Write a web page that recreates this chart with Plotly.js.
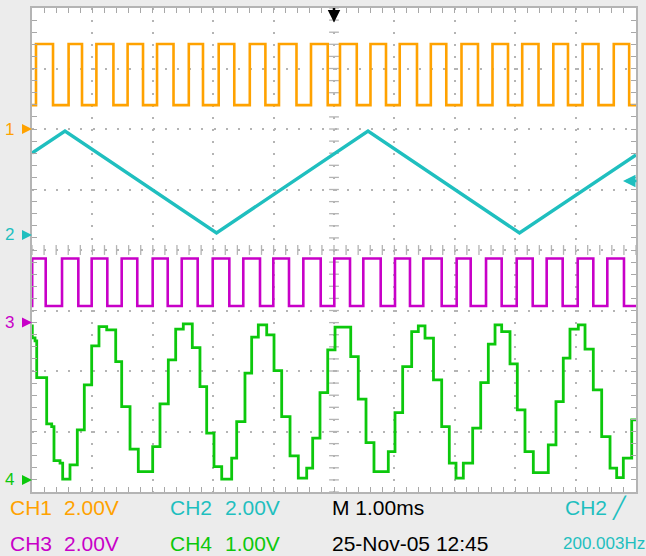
<!DOCTYPE html>
<html>
<head>
<meta charset="utf-8">
<script src="https://cdn.plot.ly/plotly-3.0.1.min.js"></script>
<style>
  html, body { margin: 0; padding: 0; background: #ececec; }
  #chart { width: 646px; height: 556px; }
</style>
</head>
<body>
<div id="chart"></div>
<script>
// ---------------- Data (time in ms, amplitude in volts) ----------------
// CH1: square wave, edge times (starts low)
const ch1Edges = [0.066, 0.348, 0.606, 0.828, 1.066, 1.348, 1.583, 1.838, 2.070, 2.343,
  2.596, 2.831, 3.091, 3.349, 3.606, 3.864, 4.089, 4.379, 4.619, 4.896,
  5.099, 5.377, 5.604, 5.861, 6.088, 6.374, 6.603, 6.859, 7.111, 7.384,
  7.624, 7.881, 8.116, 8.386, 8.631, 8.874, 9.116, 9.379, 9.632, 9.887];
const ch1Levels = [0.79, 2.81];   // low, high (V)

// CH2: stepped triangle, vertices
const ch2Time = [0, 0.546, 3.055, 5.563, 8.071, 10.0];
const ch2Volts = [2.707, 3.434, 0.062, 3.434, 0.062, 2.640];

// CH3: square wave, edge times (starts low)
const ch3Edges = [0.003, 0.227, 0.497, 0.767, 0.988, 1.247, 1.485, 1.743, 1.998, 2.247,
  2.479, 2.743, 2.992, 3.267, 3.498, 3.775, 3.995, 4.255, 4.492, 4.780,
  5.005, 5.265, 5.485, 5.773, 6.010, 6.258, 6.478, 6.783, 7.031, 7.263,
  7.517, 7.776, 8.025, 8.290, 8.521, 8.786, 9.035, 9.293, 9.525, 9.801];
const ch3Levels = [0.55, 2.12];

// CH4: stepped sine (sample-and-hold levels)
const ch4Time = [0, 0.005, 0.050, 0.078, 0.243, 0.326, 0.364, 0.464, 0.508, 0.629,
  0.750, 0.866, 0.988, 1.109, 1.237, 1.386, 1.485, 1.623, 1.760, 1.998,
  2.119, 2.257, 2.379, 2.505, 2.654, 2.781, 2.892, 3.013, 3.141, 3.306,
  3.389, 3.526, 3.637, 3.747, 3.886, 4.007, 4.134, 4.272, 4.409, 4.548,
  4.647, 4.768, 4.896, 5.017, 5.277, 5.402, 5.530, 5.662, 5.899, 6.010,
  6.137, 6.286, 6.396, 6.507, 6.647, 6.783, 6.909, 7.020, 7.141, 7.296,
  7.429, 7.555, 7.666, 7.776, 7.914, 8.035, 8.162, 8.300, 8.548, 8.675,
  8.796, 8.907, 9.045, 9.156, 9.293, 9.432, 9.570, 9.680, 9.790, 9.929, 10.0];
const ch4Volts = [2.546, 2.347, 2.298, 1.691, 0.926, 0.881, 0.319, 0.276, 0.012, 0.248,
  0.827, 1.571, 2.215, 2.534, 2.480, 1.956, 1.212, 0.508, 0.138, 0.551,
  1.257, 1.984, 2.491, 2.579, 2.187, 1.542, 0.772, 0.220, 0.012, 0.359,
  0.964, 1.764, 2.359, 2.562, 2.397, 1.807, 1.047, 0.397, 0.028, 0.194,
  0.690, 1.443, 2.149, 2.524, 2.038, 1.334, 0.617, 0.138, 0.468, 1.113,
  1.873, 2.452, 2.546, 2.342, 1.653, 0.881, 0.276, 0.028, 0.276, 0.855,
  1.609, 2.243, 2.562, 2.452, 1.918, 1.157, 0.468, 0.121, 0.579, 1.295,
  2.012, 2.491, 2.562, 2.161, 1.488, 0.716, 0.194, 0.038, 0.359, 0.992, 0.992];

// Scope settings
const channelNames = ['CH1', 'CH2', 'CH3', 'CH4'];
const voltsPerDiv = [2.0, 2.0, 2.0, 1.0];
const voltsLabels = ['2.00V', '2.00V', '2.00V', '1.00V'];
const groundDiv = [6.0, 4.25, 2.8, 0.2];
const timebaseLabel = 'M 1.00ms';
const dateLabel = '25-Nov-05 12:45';
const triggerLabel = 'CH2 \u2571';
const freqLabel = '200.003Hz';
const triggerLevelV = 1.78;

// ---------------- Styling ----------------
const colors = ['#ffa200', '#1fbfbf', '#c800c8', '#0cc80c'];
const gridCol = '#b4b4b4';
const FONT = 'Liberation Sans, Arial, sans-serif';

function toDiv(ch, v) { return groundDiv[ch] + v / voltsPerDiv[ch]; }

function squareTrace(ch, edges, levels) {
  const x = [0], y = [toDiv(ch, levels[0])];
  let state = 0;
  edges.forEach(e => { state = 1 - state; x.push(e); y.push(toDiv(ch, levels[state])); });
  x.push(10); y.push(toDiv(ch, levels[state]));
  return { x, y, type: 'scatter', mode: 'lines', line: { color: colors[ch], width: 2.6, shape: 'hv' }, hoverinfo: 'skip' };
}

// crosshair tick marks on center lines
const minorY = [], minorX = [];
for (let i = 0; i <= 40; i++) minorY.push(i * 0.2);
for (let i = 0; i <= 50; i++) minorX.push(i * 0.2);

const traces = [
  { x: minorY.map(() => 5), y: minorY, type: 'scatter', mode: 'markers',
    marker: { symbol: 'line-ew', size: 7, line: { width: 1.3, color: gridCol } }, hoverinfo: 'skip' },
  { x: minorX, y: minorX.map(() => 4), type: 'scatter', mode: 'markers',
    marker: { symbol: 'line-ns', size: 7, line: { width: 1.3, color: gridCol } }, hoverinfo: 'skip' },
  squareTrace(0, ch1Edges, ch1Levels),
  { x: ch2Time, y: ch2Volts.map(v => toDiv(1, v)), type: 'scatter', mode: 'lines',
    line: { color: colors[1], width: 3.4 }, hoverinfo: 'skip' },
  squareTrace(2, ch3Edges, ch3Levels),
  { x: ch4Time, y: ch4Volts.map(v => toDiv(3, v)), type: 'scatter', mode: 'lines',
    line: { color: colors[3], width: 2.8, shape: 'hv' }, hoverinfo: 'skip' }
];

const annotations = [];
// ground markers
for (let c = 0; c < 4; c++) {
  annotations.push({ xref: 'paper', yref: 'y', x: 0, y: groundDiv[c], ax: -9, ay: 0,
    text: '', showarrow: true, arrowhead: 2, arrowsize: 1, arrowwidth: 2, arrowcolor: colors[c] });
  annotations.push({ xref: 'paper', yref: 'y', x: -0.026, y: groundDiv[c], xanchor: 'right', yanchor: 'middle',
    text: String(c + 1), showarrow: false, font: { family: FONT, size: 17, color: colors[c] } });
}
// trigger position (top) and level (right)
annotations.push({ xref: 'x', yref: 'paper', x: 5, y: 0.97, ax: 0, ay: -16, text: '',
  showarrow: true, arrowhead: 2, arrowsize: 1, arrowwidth: 2.5, arrowcolor: '#000' });
annotations.push({ xref: 'x', yref: 'y', x: 9.785, y: toDiv(1, triggerLevelV), ax: 15, ay: 0, text: '',
  showarrow: true, arrowhead: 2, arrowsize: 1, arrowwidth: 2.5, arrowcolor: colors[1] });

// bottom readouts
function px2paperX(px) { return (px - 32) / 604; }
function py2paperY(py) { return (492 - py) / 484; }
function label(txt, px, py, col, size) {
  annotations.push({ xref: 'paper', yref: 'paper', x: px2paperX(px), y: py2paperY(py),
    xanchor: 'left', yanchor: 'middle', text: txt, showarrow: false,
    font: { family: FONT, size: size || 21, color: col } });
}
const rowY = [508, 543];
const colX = [[8, 62], [168, 223]];
for (let c = 0; c < 4; c++) {
  const row = (c === 0 || c === 1) ? 0 : 1;
  const col = (c === 0 || c === 2) ? 0 : 1;
  label(channelNames[c], colX[col][0], rowY[row], colors[c]);
  label(voltsLabels[c], colX[col][1], rowY[row], colors[c]);
}
label(timebaseLabel, 330, rowY[0], '#000');
label(dateLabel, 330, rowY[1], '#000');
label(triggerLabel, 563, rowY[0], colors[1]);
label(freqLabel, 561, rowY[1], colors[1], 17);

const axisCommon = {
  showgrid: true, gridcolor: gridCol, gridwidth: 2,
  ticks: 'inside', ticklen: 5, tickwidth: 1, tickcolor: '#a8a8a8',
  showline: true, linecolor: '#b4b4b4', linewidth: 2, mirror: 'allticks',
  showticklabels: false, zeroline: false, fixedrange: true
};

const layout = {
  width: 646, height: 556,
  margin: { l: 32, r: 10, t: 8, b: 64, pad: 0 },
  paper_bgcolor: '#ececec', plot_bgcolor: '#ffffff',
  showlegend: false,
  xaxis: Object.assign({}, axisCommon, { range: [0, 10], tick0: 0, dtick: 1, griddash: '2px,10.08px',
    minor: { tick0: 0, dtick: 0.2, ticks: 'inside', ticklen: 5, tickcolor: '#a8a8a8', showgrid: false } }),
  yaxis: Object.assign({}, axisCommon, { range: [0, 8], tick0: 0, dtick: 1, griddash: '2px,10.1px',
    minor: { tick0: 0, dtick: 0.2, ticks: 'inside', ticklen: 5, tickcolor: '#a8a8a8', showgrid: false } }),
  annotations: annotations
};

Plotly.newPlot('chart', traces, layout, { staticPlot: true, displayModeBar: false });
</script>
</body>
</html>
